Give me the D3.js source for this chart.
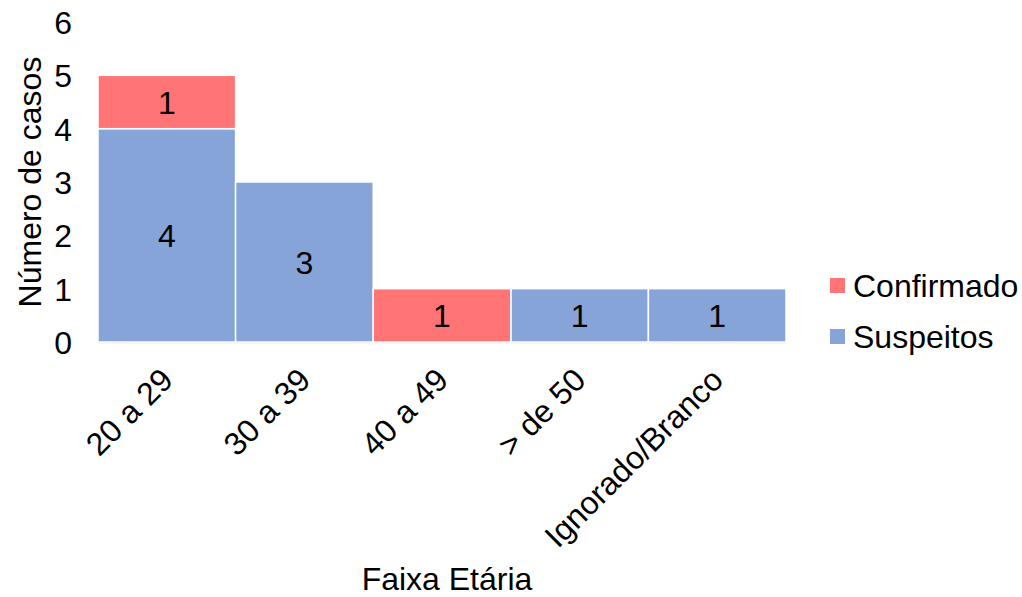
<!DOCTYPE html>
<html><head><meta charset="utf-8">
<script src="https://cdn.jsdelivr.net/npm/d3@7"></script>
<style>body{margin:0;background:#fff}text{font-family:Arial,"Liberation Sans",sans-serif;fill:#000}</style>
</head><body><svg id="c" width="1022" height="597"></svg>
<script>
const categories = ["20 a 29","30 a 39","40 a 49","> de 50","Ignorado/Branco"];
const suspeitos = [4,3,0,1,1];
const confirmado = [1,0,1,0,0];
const seriesNames = ["Suspeitos","Confirmado"];
const yTicks = [0,1,2,3,4,5,6];
const colors = {Suspeitos:"#86a4d8", Confirmado:"#ff7475"};
const FS = 32;
const FF = "Arial,'Liberation Sans',sans-serif";

const svg = d3.select("#c");
const x = d3.scaleBand().domain(categories).range([98,786]).padding(0);
const y = d3.scaleLinear().domain([0,6]).range([342,22]);

const rows = categories.map((c,i)=>({cat:c, Suspeitos:suspeitos[i], Confirmado:confirmado[i]}));
const stack = d3.stack().keys(seriesNames)(rows);

svg.append("line").attr("x1",98).attr("x2",786).attr("y1",y(0)+0.5).attr("y2",y(0)+0.5).attr("stroke","#d9d9d9").attr("stroke-width",1.5);

stack.forEach(s=>{
  const g = svg.append("g");
  s.forEach((d,i)=>{
    if (d[1]-d[0] <= 0) return;
    g.append("rect").attr("x",x(rows[i].cat)).attr("width",x.bandwidth())
      .attr("y",y(d[1])).attr("height",y(d[0])-y(d[1]))
      .attr("fill",colors[s.key]).attr("stroke","#fff").attr("stroke-width",1.5);
    g.append("text").attr("x",x(rows[i].cat)+x.bandwidth()/2).attr("y",(y(d[0])+y(d[1]))/2)
      .attr("text-anchor","middle").attr("dy","0.36em").attr("font-size",FS).text(d[1]-d[0]);
  });
});

// y axis
const ya = svg.append("g").attr("transform","translate(72,0)").call(d3.axisLeft(y).tickValues(yTicks).tickSize(0).tickPadding(0).tickFormat(d3.format("d")));
ya.select(".domain").remove();
ya.selectAll("text").attr("font-size",FS).attr("font-family",FF).attr("fill","#000").attr("dy","0.36em");

// x axis
const xa = svg.append("g").attr("transform",`translate(0,${y(0)})`).call(d3.axisBottom(x).tickSize(0).tickPadding(0));
xa.select(".domain").remove();
xa.selectAll("text").attr("font-size",FS).attr("font-family",FF).attr("fill","#000")
  .attr("text-anchor","end").attr("dy",0).attr("y",0)
  .attr("transform","translate(8,40) rotate(-45)");

svg.append("text").attr("transform","translate(41,182) rotate(-90)").attr("text-anchor","middle").attr("font-size",FS).text("Número de casos");
svg.append("text").attr("x",447).attr("y",590).attr("text-anchor","middle").attr("font-size",FS).text("Faixa Etária");

const legend = [["Confirmado",297,278],["Suspeitos",348,329]];
legend.forEach(([k,by,ry])=>{
  svg.append("rect").attr("x",830).attr("y",ry).attr("width",15).attr("height",15).attr("fill",colors[k]);
  svg.append("text").attr("x",853).attr("y",by).attr("font-size",FS).text(k);
});
</script></body></html>
